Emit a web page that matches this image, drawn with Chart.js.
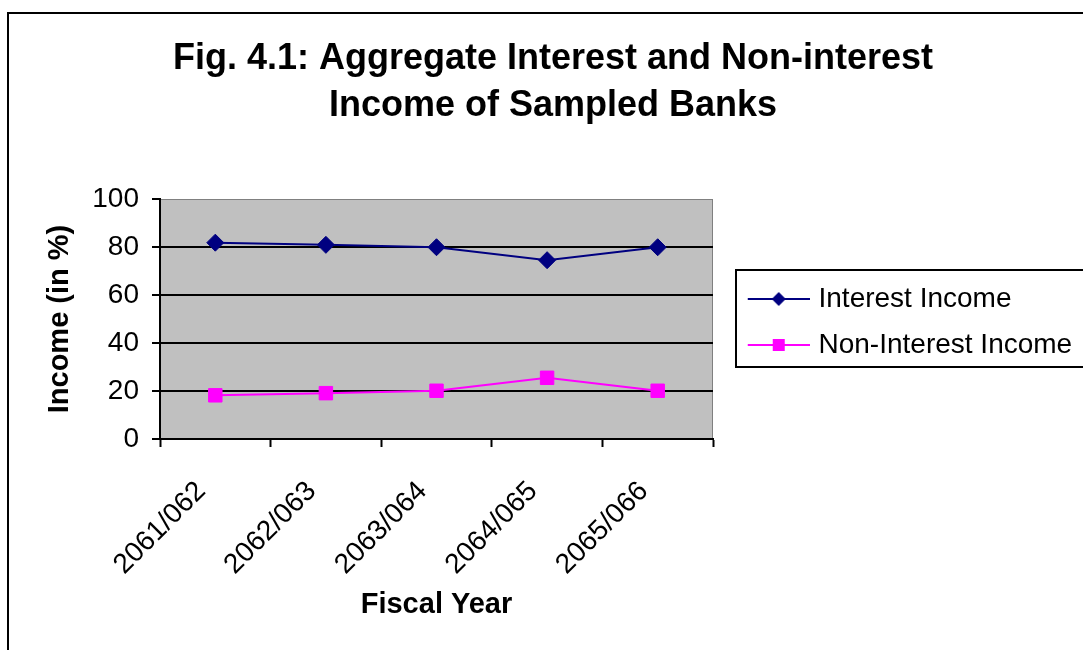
<!DOCTYPE html>
<html>
<head>
<meta charset="utf-8">
<title>Aggregate Interest and Non-interest Income</title>
<script src="https://cdn.jsdelivr.net/npm/chart.js@4.4.0/dist/chart.umd.min.js"></script>
<style>
  html, body { margin: 0; padding: 0; background: #fff; }
</style>
</head>
<body>
<canvas id="canvas" width="1083" height="650"></canvas>
<script>
var years = ['2061/062', '2062/063', '2063/064', '2064/065', '2065/066'];
var interestIncome = [81.8, 80.9, 79.9, 74.5, 79.9];
var nonInterestIncome = [18.2, 19.1, 20.1, 25.5, 20.1];
var yTicks = [0, 20, 40, 60, 80, 100];

var FONT = "'Liberation Sans', Arial, sans-serif";

// line + marker sample used as the legend symbol
function legendMark(color, style, half) {
  var c = document.createElement('canvas');
  c.width = 84;
  c.height = 20;
  var g = c.getContext('2d');
  g.strokeStyle = color;
  g.lineWidth = 2;
  g.beginPath();
  g.moveTo(22, 10);
  g.lineTo(84, 10);
  g.stroke();
  g.fillStyle = color;
  g.beginPath();
  if (style === 'rectRot') {
    g.moveTo(53, 10 - half);
    g.lineTo(53 + half, 10);
    g.lineTo(53, 10 + half);
    g.lineTo(53 - half, 10);
    g.closePath();
  } else {
    g.rect(53 - half, 10 - half, half * 2, half * 2);
  }
  g.fill();
  return c;
}

var marks = [
  legendMark('#000080', 'rectRot', 7),
  legendMark('#FF00FF', 'rect', 6)
];

var chartFrame = {
  id: 'chartFrame',
  afterInit: function (chart) {
    // legend column keeps a fixed width
    var fit = chart.legend.fit;
    chart.legend.fit = function () {
      fit.call(this);
      this.width = 370;
    };
  },
  afterLayout: function (chart) {
    chart.legend.top += 9;
    chart.legend.bottom += 9;
  },
  beforeDraw: function (chart) {
    var a = chart.chartArea, ctx = chart.ctx;
    ctx.save();
    ctx.fillStyle = '#C0C0C0';
    ctx.fillRect(a.left, a.top, a.right - a.left, a.bottom - a.top);
    ctx.strokeStyle = '#808080';
    ctx.lineWidth = 1;
    ctx.strokeRect(a.left + 0.5, a.top + 0.5, a.right - a.left - 1, a.bottom - a.top);
    ctx.restore();
  },
  afterDraw: function (chart) {
    var ctx = chart.ctx;
    ctx.save();
    ctx.strokeStyle = '#000';
    ctx.lineWidth = 2;
    ctx.beginPath();
    ctx.moveTo(8, 650);
    ctx.lineTo(8, 13);
    ctx.lineTo(1083, 13);
    ctx.stroke();

    // box round the legend
    var hb = chart.legend.legendHitBoxes;
    if (hb && hb.length) {
      var last = hb[hb.length - 1];
      var top = hb[0].top - 15;
      var bottom = last.top + last.height + 8;
      ctx.strokeRect(hb[0].left + 5, top, 500, bottom - top);
    }
    ctx.restore();
  }
};

var ctx = document.getElementById('canvas');
window.myLine = new Chart(ctx, {
  type: 'line',
  plugins: [chartFrame],
  data: {
    labels: years,
    datasets: [{
      label: 'Interest Income',
      data: interestIncome,
      borderColor: '#000080',
      backgroundColor: '#000080',
      borderWidth: 2,
      pointStyle: 'rectRot',
      pointRadius: 8.5,
      pointBorderWidth: 1,
      tension: 0
    }, {
      label: 'Non-Interest Income',
      data: nonInterestIncome,
      borderColor: '#FF00FF',
      backgroundColor: '#FF00FF',
      borderWidth: 2,
      pointStyle: 'rect',
      pointRadius: 9.5,
      pointBorderWidth: 1,
      tension: 0
    }]
  },
  options: {
    responsive: false,
    animation: false,
    layout: { padding: { left: 23, right: 0, top: 0, bottom: 24 } },
    plugins: {
      title: {
        display: true,
        text: ['Fig. 4.1: Aggregate Interest and Non-interest', 'Income of Sampled Banks'],
        color: '#000',
        font: { family: FONT, size: 36, weight: 'bold', lineHeight: 47 / 36 },
        padding: { top: 36, bottom: 69 }
      },
      legend: {
        position: 'right',
        align: 'center',
        labels: {
          color: '#000',
          font: { family: FONT, size: 28 },
          usePointStyle: true,
          pointStyleWidth: 73.5,
          padding: 18,
          generateLabels: function (chart) {
            var items = Chart.defaults.plugins.legend.labels.generateLabels(chart);
            items.forEach(function (item, i) { item.pointStyle = marks[i]; });
            return items;
          }
        }
      },
      tooltip: { enabled: false }
    },
    scales: {
      x: {
        type: 'category',
        offset: true,
        afterFit: function (s) { s.height = 187; },
        grid: {
          offset: true,
          drawOnChartArea: false,
          drawTicks: true,
          tickLength: 8,
          tickColor: '#000',
          tickWidth: 2
        },
        border: { color: '#000', width: 2 },
        ticks: {
          autoSkip: false,
          minRotation: 45,
          maxRotation: 45,
          padding: 28,
          labelOffset: -14,
          color: '#000',
          font: { family: FONT, size: 28 }
        },
        title: {
          display: true,
          text: 'Fiscal Year',
          color: '#000',
          font: { family: FONT, size: 29, weight: 'bold' },
          padding: { top: 4, bottom: 4 }
        }
      },
      y: {
        min: 0,
        max: 100,
        afterFit: function (s) { s.width = 137; },
        afterBuildTicks: function (s) {
          s.ticks = yTicks.map(function (v) { return { value: v }; });
        },
        grid: {
          color: function (c) { return c.tick && c.tick.value === 100 ? 'rgba(0,0,0,0)' : '#000'; },
          lineWidth: 2,
          tickLength: 8,
          tickColor: '#000',
          tickWidth: 2
        },
        border: { color: '#000', width: 2 },
        ticks: {
          padding: 13,
          color: '#000',
          font: { family: FONT, size: 28 }
        },
        title: {
          display: true,
          text: 'Income (in %)',
          color: '#000',
          font: { family: FONT, size: 29, weight: 'bold' },
          padding: { top: 20, bottom: 4 }
        }
      }
    }
  }
});
</script>
</body>
</html>
